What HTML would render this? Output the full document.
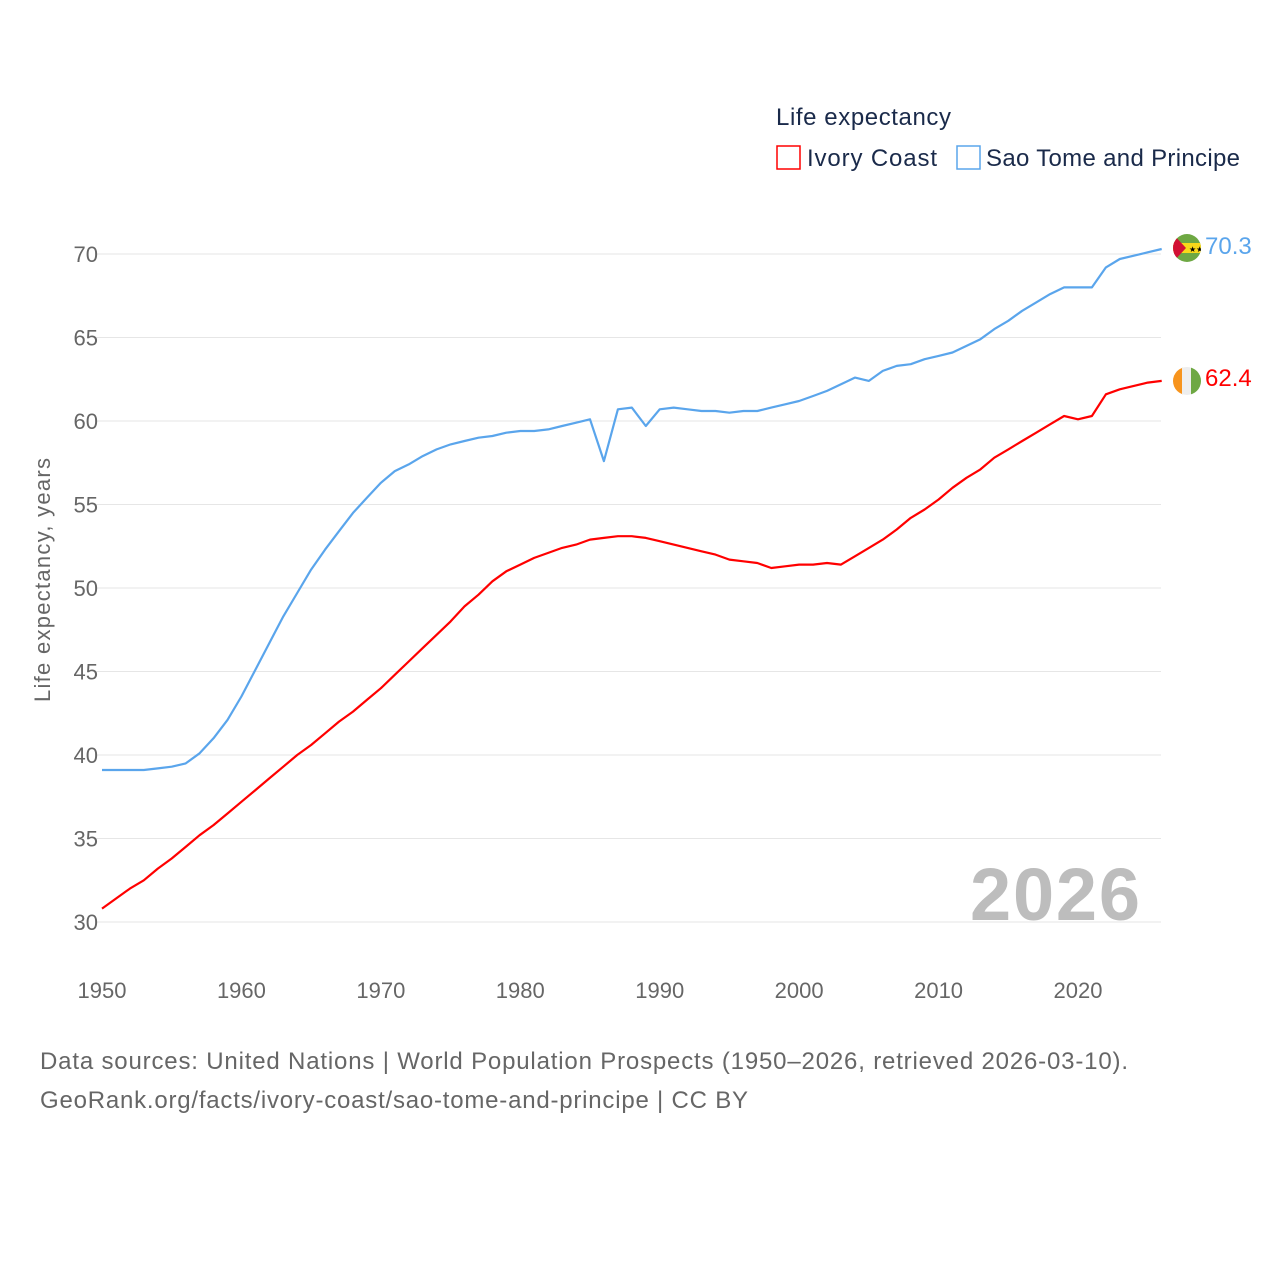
<!DOCTYPE html>
<html><head><meta charset="utf-8"><style>
body{margin:0;background:#fff;font-family:"Liberation Sans",sans-serif}
svg text{font-family:"Liberation Sans",sans-serif}
</style></head><body>
<svg width="1280" height="1280" id="chart">
<text x="776" y="125" font-size="24" fill="#1a2a4a" textLength="175">Life expectancy</text>
<g><rect x="777" y="146" width="23" height="23" fill="none" stroke="#f00" stroke-width="1.5"/><text x="807" y="166" font-size="24" fill="#1a2a4a" textLength="130">Ivory Coast</text></g>
<g><rect x="957" y="146" width="23" height="23" fill="none" stroke="#5aa5ec" stroke-width="1.5"/><text x="986" y="166" font-size="24" fill="#1a2a4a" textLength="254">Sao Tome and Principe</text></g>
<g id="grid"></g><g id="yticks"></g><g id="xticks"></g>
<text transform="translate(50,580) rotate(-90)" text-anchor="middle" font-size="22" fill="#666" textLength="244">Life expectancy, years</text>
<text x="1140" y="920" text-anchor="end" font-size="74" font-weight="bold" fill="#bdbdbd" textLength="170">2026</text>
<g id="lines"></g>
<g><clipPath id="c1"><circle cx="1187" cy="248" r="14"/></clipPath><g clip-path="url(#c1)"><rect x="1173" y="234" width="28" height="28" fill="#6ea843"/><rect x="1173" y="243" width="28" height="10" fill="#f8d81a"/><polygon points="1173,234 1186,248 1173,262" fill="#d21034"/><text x="1189" y="252" font-size="8" fill="#000">★★</text></g></g>
<g><clipPath id="c2"><circle cx="1187" cy="381" r="14"/></clipPath><g clip-path="url(#c2)"><rect x="1173" y="367" width="10" height="28" fill="#f7941d"/><rect x="1182" y="367" width="10" height="28" fill="#eee"/><rect x="1191" y="367" width="10" height="28" fill="#6ea843"/></g></g>
<text x="1205" y="254" font-size="24" fill="#5aa5ec">70.3</text>
<text x="1205" y="386" font-size="24" fill="#f00">62.4</text>
<text x="40" y="1069" font-size="24" fill="#666" textLength="1088">Data sources: United Nations | World Population Prospects (1950–2026, retrieved 2026-03-10).</text>
<text x="40" y="1108" font-size="24" fill="#666" textLength="708">GeoRank.org/facts/ivory-coast/sao-tome-and-principe | CC BY</text>
</svg>
<script>
const years=[];for(let y=1950;y<=2026;y++)years.push(y);
const saoTome=[39.1,39.1,39.1,39.1,39.2,39.3,39.5,40.1,41.0,42.1,43.5,45.1,46.7,48.3,49.7,51.1,52.3,53.4,54.5,55.4,56.3,57.0,57.4,57.9,58.3,58.6,58.8,59.0,59.1,59.3,59.4,59.4,59.5,59.7,59.9,60.1,57.6,60.7,60.8,59.7,60.7,60.8,60.7,60.6,60.6,60.5,60.6,60.6,60.8,61.0,61.2,61.5,61.8,62.2,62.6,62.4,63.0,63.3,63.4,63.7,63.9,64.1,64.5,64.9,65.5,66.0,66.6,67.1,67.6,68.0,68.0,68.0,69.2,69.7,69.9,70.1,70.3];
const ivoryCoast=[30.8,31.4,32.0,32.5,33.2,33.8,34.5,35.2,35.8,36.5,37.2,37.9,38.6,39.3,40.0,40.6,41.3,42.0,42.6,43.3,44.0,44.8,45.6,46.4,47.2,48.0,48.9,49.6,50.4,51.0,51.4,51.8,52.1,52.4,52.6,52.9,53.0,53.1,53.1,53.0,52.8,52.6,52.4,52.2,52.0,51.7,51.6,51.5,51.2,51.3,51.4,51.4,51.5,51.4,51.9,52.4,52.9,53.5,54.2,54.7,55.3,56.0,56.6,57.1,57.8,58.3,58.8,59.3,59.8,60.3,60.1,60.3,61.6,61.9,62.1,62.3,62.4];
const yTicks=[30,35,40,45,50,55,60,65,70];
const xTicks=[1950,1960,1970,1980,1990,2000,2010,2020];
const X=y=>102+(y-1950)*(1078-102)/70;
const Y=v=>922-(v-30)*(668/40);
const NS='http://www.w3.org/2000/svg';
function mk(t,a,p){const e=document.createElementNS(NS,t);for(const k in a)e.setAttribute(k,a[k]);p.appendChild(e);return e;}
const g=document.getElementById('grid'),yt=document.getElementById('yticks'),xt=document.getElementById('xticks'),ln=document.getElementById('lines');
yTicks.forEach(v=>{
 const l=mk('line',{x1:95,x2:1161,y1:Y(v),y2:Y(v),stroke:'#e6e6e6','stroke-width':1},g);
 
 
 const t=mk('text',{x:98,y:Y(v)+8,'text-anchor':'end','font-size':22,fill:'#666'},yt);t.textContent=v;
 
 
});
xTicks.forEach(v=>{
 const t=mk('text',{x:X(v),y:998,'text-anchor':'middle','font-size':22,fill:'#666'},xt);t.textContent=v;
 
 
});
function line(d,c,n){
 const p=mk('path',{d:d.map((v,i)=>(i?'L':'M')+X(years[i]).toFixed(1)+','+Y(v).toFixed(1)).join(''),fill:'none',stroke:c,'stroke-width':2.2,'stroke-linejoin':'round'},ln);
 
 
}
line(saoTome,'#5aa5ec','line-sao-tome');
line(ivoryCoast,'#f00','line-ivory-coast');
</script>
</body></html>
